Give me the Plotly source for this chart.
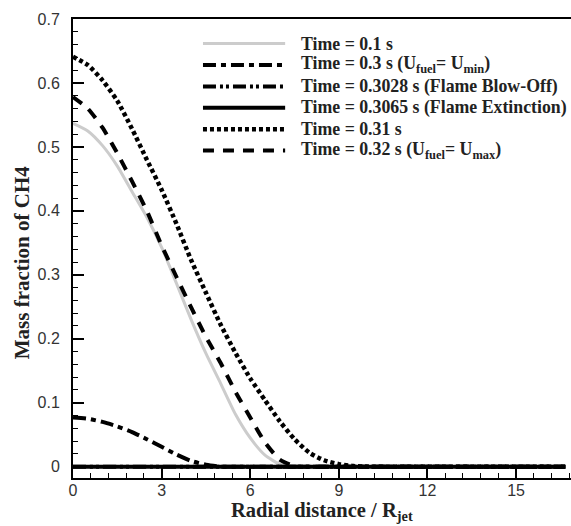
import plotly.graph_objects as go

# Radial positions (r / R_jet)
r = [0, 0.5, 1.0, 1.5, 2.0, 2.5, 3.0, 3.5, 4.0, 4.5, 5.0, 5.5, 6.0, 6.5,
     7.0, 7.5, 8.0, 8.5, 9.0, 9.5, 10.0, 12.0, 14.0, 16.67]

t_01 = [0.537, 0.525, 0.502, 0.470, 0.430, 0.390, 0.343, 0.287, 0.230, 0.177,
        0.130, 0.082, 0.045, 0.018, 0.004, 0.0, 0, 0, 0, 0, 0, 0, 0, 0]
t_030 = [0.077, 0.075, 0.070, 0.063, 0.054, 0.043, 0.031, 0.019, 0.009, 0.003,
         0.0, 0, 0, 0, 0, 0, 0, 0, 0, 0, 0, 0, 0, 0]
t_03028 = [0] * len(r)
t_03065 = [0] * len(r)
t_031 = [0.641, 0.628, 0.604, 0.572, 0.528, 0.480, 0.433, 0.380, 0.323, 0.272,
         0.222, 0.178, 0.138, 0.104, 0.071, 0.043, 0.022, 0.010, 0.004, 0.001,
         0, 0, 0, 0]
t_032 = [0.578, 0.560, 0.530, 0.490, 0.446, 0.400, 0.346, 0.297, 0.249, 0.203,
         0.162, 0.117, 0.077, 0.038, 0.011, 0.001, 0, 0, 0, 0, 0, 0, 0, 0]

labels = [
    "Time = 0.1 s",
    "Time = 0.3 s (U<sub>fuel</sub>= U<sub>min</sub>)",
    "Time = 0.3028 s (Flame Blow-Off)",
    "Time = 0.3065 s (Flame Extinction)",
    "Time = 0.31 s",
    "Time = 0.32 s (U<sub>fuel</sub>= U<sub>max</sub>)",
]
series = [t_01, t_030, t_03028, t_03065, t_031, t_032]
styles = [
    dict(color="#cccccc", width=3, dash="solid"),
    dict(color="black", width=4, dash="13px,5px,5px,5px"),
    dict(color="black", width=4, dash="13px,4px,3px,3px,3px,4px"),
    dict(color="black", width=4, dash="solid"),
    dict(color="black", width=4.5, dash="4px,3px"),
    dict(color="black", width=4, dash="11px,9px"),
]

fig = go.Figure()
for lab, ys, st in zip(labels, series, styles):
    fig.add_trace(go.Scatter(x=r, y=ys, mode="lines", name=lab,
                             line=dict(shape="spline", smoothing=0.6, **st),
                             showlegend=False))

# Custom legend (long sample lines like the reference)
leg_y0 = 0.9464
leg_dy = 0.0466
for i, (lab, st) in enumerate(zip(labels, styles)):
    yy = leg_y0 - i * leg_dy
    fig.add_shape(type="line", xref="paper", yref="paper",
                  x0=0.261, x1=0.426, y0=yy, y1=yy,
                  line=dict(color=st["color"], width=st["width"], dash=st["dash"]))
    fig.add_annotation(xref="paper", yref="paper", x=0.4558, y=yy,
                       xanchor="left", yanchor="middle", showarrow=False,
                       text="<b>" + lab + "</b>", borderpad=0,
                       font=dict(family="Liberation Serif", size=17.8, color="#222"))

# Axis titles
fig.add_annotation(xref="paper", yref="paper", x=0.5, y=-0.074,
                   xanchor="center", yanchor="middle", showarrow=False,
                   text="<b>Radial distance / R<sub>jet</sub></b>", borderpad=0,
                   font=dict(family="Liberation Serif", size=20.5, color="#222"))
fig.add_annotation(xref="paper", yref="paper", x=-0.1024, y=0.47,
                   xanchor="center", yanchor="middle", showarrow=False,
                   textangle=-90, borderpad=0,
                   text="<b>Mass fraction of CH4</b>",
                   font=dict(family="Liberation Serif", size=21, color="#222"))

fig.update_layout(
    width=571, height=526,
    margin=dict(l=73, r=0, t=19, b=48),
    plot_bgcolor="white", paper_bgcolor="white",
    font=dict(family="Liberation Sans", size=16, color="#333"),
)
fig.update_xaxes(
    range=[0, 16.86], dtick=3, tick0=0, automargin=False,
    showgrid=False, zeroline=False,
    showline=True, linecolor="black", linewidth=2, mirror=True,
    ticks="inside", ticklen=12, tickwidth=2, tickcolor="black",
    minor=dict(dtick=0.6, ticks="inside", ticklen=5, tickwidth=1, tickcolor="black"),
    ticklabelstandoff=-3,
)
fig.update_yaxes(
    range=[-0.0177, 0.7], dtick=0.1, tick0=0, automargin=False,
    showgrid=False, zeroline=False,
    showline=True, linecolor="black", linewidth=2, mirror=True,
    ticks="inside", ticklen=11, tickwidth=2, tickcolor="black",
    minor=dict(dtick=0.02, ticks="inside", ticklen=5, tickwidth=1, tickcolor="black"),
    ticklabelstandoff=8,
)

fig.write_html("out.html", config={"displayModeBar": False},
               post_script="document.body.style.margin='0';document.body.style.overflow='hidden';")
